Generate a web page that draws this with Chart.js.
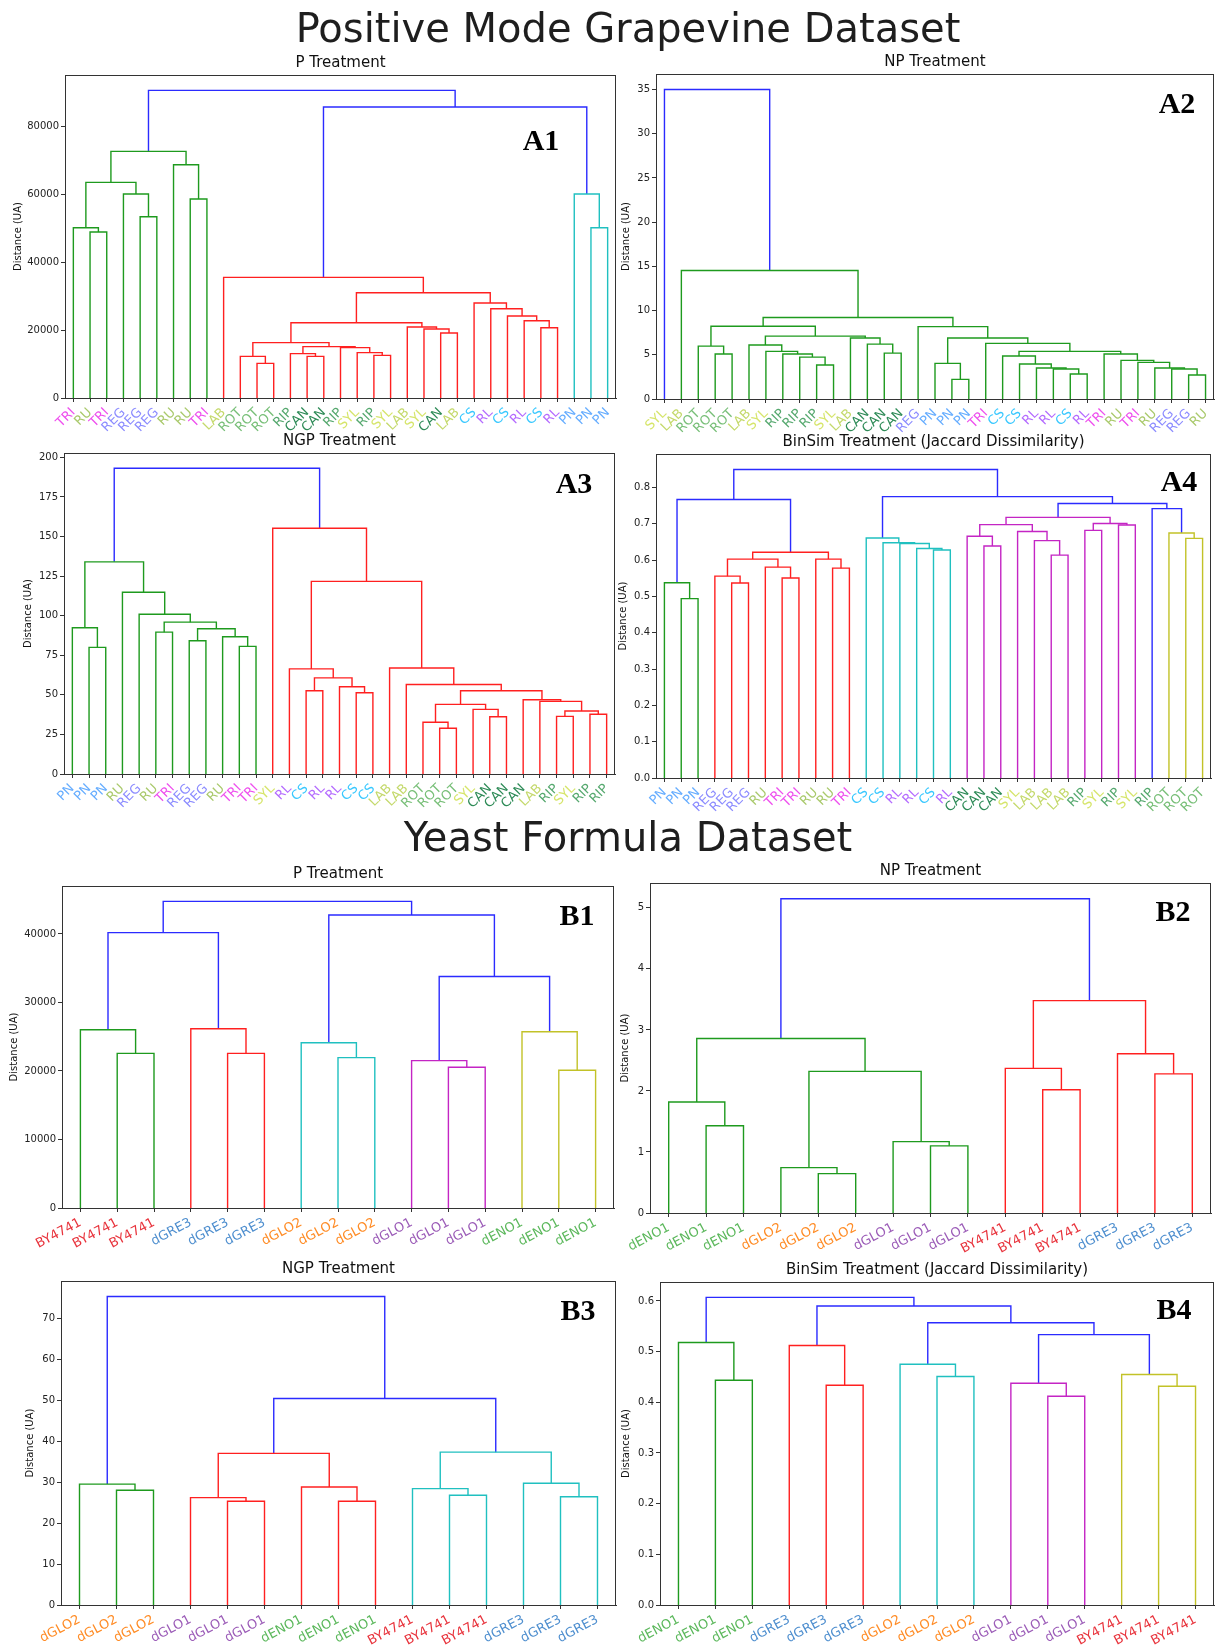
<!DOCTYPE html>
<html>
<head>
<meta charset="utf-8">
<script src="https://cdn.jsdelivr.net/npm/chart.js@4.4.1/dist/chart.umd.min.js"></script>
<style>
  body { margin: 0; background: #fff; }
  #page { position: relative; width: 1220px; height: 1648px; overflow: hidden; background: #fff; font-family: "DejaVu Sans", sans-serif; }
  .big { position: absolute; left: 0; width: 1256px; text-align: center; font-size: 40px; line-height: 40px; color: #1e1e1e; filter: blur(0.5px); white-space: nowrap; }
  canvas { position: absolute; }
</style>
</head>
<body>
<div id="page">
  <div class="big" style="top:8px">Positive Mode Grapevine Dataset</div>
  <div class="big" style="top:817px">Yeast Formula Dataset</div>
</div>
<script>
// ---------- Grapevine dataset (33 samples, 11 varieties) ----------
const a1Leaves = ['TRI','RU','TRI','REG','REG','REG','RU','RU','TRI','LAB','ROT','ROT','ROT','RIP','CAN','CAN','RIP',
                  'SYL','RIP','SYL','LAB','SYL','CAN','LAB','CS','RL','CS','RL','CS','RL','PN','PN','PN'];
// merges: [left, right, height]; index < n is a leaf, index >= n is merge (index - n)
const a1Links = [
  [1,2,48824],[0,33,50098],[4,5,53333],[3,35,60000],[34,36,63431],[7,8,58529],[6,38,68627],[37,39,72549],
  [31,32,50098],[30,41,60000],[11,12,10196],[10,43,12255],[14,15,12255],[13,45,13039],[18,19,12549],[17,47,13333],
  [16,48,14804],[46,49,15098],[44,50,16275],[22,23,19118],[21,52,20294],[20,53,20882],[51,54,22157],[28,29,20686],
  [27,56,22745],[26,57,24118],[25,58,26275],[24,59,27941],[55,60,30980],[9,61,35490],[62,42,85588],[40,63,90490]
];
const a1Cut = 80000;
const a1YTicks = [0,20000,40000,60000,80000];

const a2Leaves = ['SYL','LAB','ROT','ROT','ROT','LAB','SYL','RIP','RIP','RIP','SYL','LAB','CAN','CAN','CAN','REG','PN',
                  'PN','PN','TRI','CS','CS','RL','RL','CS','RL','TRI','RU','TRI','RU','REG','REG','RU'];
const a2Links = [
  [3,4,5.08],[2,33,5.98],[9,10,3.84],[8,35,4.74],[7,36,5.08],[6,37,5.38],[5,38,6.10],[13,14,5.19],
  [12,40,6.21],[11,41,6.89],[39,42,7.11],[34,43,8.22],[17,18,2.22],[16,45,4.03],[24,25,2.82],[23,47,3.39],
  [22,48,3.50],[21,49,3.95],[20,50,4.86],[31,32,2.71],[30,52,3.39],[29,53,3.50],[28,54,4.14],[27,55,4.37],
  [26,56,5.08],[51,57,5.38],[19,58,6.29],[46,59,6.89],[15,60,8.18],[44,61,9.22],[1,62,14.53],[0,63,35.0]
];
const a2Cut = 20;
const a2YTicks = [0,5,10,15,20,25,30,35];

const a3Leaves = ['PN','PN','PN','RU','REG','RU','TRI','REG','REG','RU','TRI','TRI','SYL','RL','CS','RL','RL',
                  'CS','CS','LAB','LAB','ROT','ROT','ROT','SYL','CAN','CAN','CAN','LAB','RIP','SYL','RIP','RIP'];
const a3Links = [
  [1,2,80.0],[0,33,92.4],[10,11,80.6],[9,35,86.7],[7,8,84.2],[37,36,91.7],[5,6,89.6],[39,38,95.9],
  [4,40,100.9],[3,41,114.8],[34,42,134.0],[14,15,52.6],[17,18,51.3],[16,45,55.1],[44,46,60.7],[13,47,66.4],
  [22,23,28.9],[21,49,32.7],[25,26,36.2],[24,51,40.8],[50,52,44.0],[29,30,36.4],[31,32,37.7],[54,55,39.8],
  [28,56,45.9],[27,57,46.9],[53,58,52.6],[20,59,56.5],[19,60,67.0],[48,61,121.7],[12,62,155.2],[43,63,193.1]
];
const a3Cut = 170;
const a3YTicks = [0,25,50,75,100,125,150,175,200];

const a4Leaves = ['PN','PN','PN','REG','REG','REG','RU','TRI','TRI','RU','RU','TRI','CS','CS','RL','RL','CS',
                  'RL','CAN','CAN','CAN','SYL','LAB','LAB','LAB','RIP','SYL','RIP','SYL','RIP','ROT','ROT','ROT'];
const a4Links = [
  [1,2,0.494],[0,33,0.538],[4,5,0.537],[3,35,0.556],[7,8,0.551],[6,37,0.581],[36,38,0.603],[10,11,0.578],
  [9,40,0.603],[39,41,0.622],[34,42,0.767],[16,17,0.628],[15,44,0.632],[14,45,0.646],[13,46,0.648],[12,47,0.661],
  [19,20,0.639],[18,49,0.666],[23,24,0.614],[22,51,0.654],[21,52,0.679],[50,53,0.698],[25,26,0.682],[27,28,0.697],
  [55,56,0.701],[54,57,0.718],[31,32,0.660],[30,59,0.675],[29,60,0.742],[58,61,0.756],[48,62,0.775],[43,63,0.850]
];
const a4Cut = 0.73;
const a4YTicks = [0,0.1,0.2,0.3,0.4,0.5,0.6,0.7,0.8];

// ---------- Yeast dataset (15 samples, 5 strains) ----------
const b1Leaves = ['BY4741','BY4741','BY4741','dGRE3','dGRE3','dGRE3','dGLO2','dGLO2','dGLO2',
                  'dGLO1','dGLO1','dGLO1','dENO1','dENO1','dENO1'];
const b1Links = [
  [1,2,22573],[0,15,26019],[4,5,22573],[3,17,26165],[7,8,21942],[6,19,24126],[10,11,20534],
  [9,21,21505],[13,14,20097],[12,23,25728],[16,18,40194],[22,24,33786],[20,26,42767],[25,27,44757]
];
const b1Cut = 30000;
const b1YTicks = [0,10000,20000,30000,40000];

const b2Leaves = ['dENO1','dENO1','dENO1','dGLO2','dGLO2','dGLO2','dGLO1','dGLO1','dGLO1',
                  'BY4741','BY4741','BY4741','dGRE3','dGRE3','dGRE3'];
const b2Links = [
  [1,2,1.43],[0,15,1.82],[4,5,0.645],[3,17,0.743],[7,8,1.10],[6,19,1.17],[18,20,2.32],
  [16,21,2.86],[10,11,2.02],[9,23,2.37],[13,14,2.28],[12,25,2.61],[24,26,3.48],[22,27,5.15]
];
const b2Cut = 4.5;
const b2YTicks = [0,1,2,3,4,5];

const b3Leaves = ['dGLO2','dGLO2','dGLO2','dGLO1','dGLO1','dGLO1','dENO1','dENO1','dENO1',
                  'BY4741','BY4741','BY4741','dGRE3','dGRE3','dGRE3'];
const b3Links = [
  [1,2,28.0],[0,15,29.5],[4,5,25.3],[3,17,26.2],[7,8,25.3],[6,19,28.8],[18,20,37.0],
  [10,11,26.8],[9,22,28.4],[13,14,26.4],[12,24,29.7],[23,25,37.3],[21,26,50.4],[16,27,75.3]
];
const b3Cut = 45;
const b3YTicks = [0,10,20,30,40,50,60,70];

const b4Leaves = ['dENO1','dENO1','dENO1','dGRE3','dGRE3','dGRE3','dGLO2','dGLO2','dGLO2',
                  'dGLO1','dGLO1','dGLO1','BY4741','BY4741','BY4741'];
const b4Links = [
  [1,2,0.4435],[0,15,0.518],[4,5,0.4336],[3,17,0.512],[7,8,0.451],[6,19,0.475],[10,11,0.412],
  [9,21,0.4376],[13,14,0.4317],[12,23,0.4547],[22,24,0.5335],[20,25,0.557],[18,26,0.590],[16,27,0.607]
];
const b4Cut = 0.525;
const b4YTicks = [0,0.1,0.2,0.3,0.4,0.5,0.6];

// ---------- colours ----------
const labelColors = {
  TRI:'#ee4eee', RU:'#a9c96b', REG:'#8c8cff', LAB:'#c4d96b', ROT:'#78bf78', RIP:'#55a86e',
  CAN:'#2e8b57', SYL:'#d6e56a', CS:'#38c8ff', RL:'#b46bff', PN:'#66adff',
  BY4741:'#e8333c', dGRE3:'#4f8fcf', dGLO2:'#ff8c26', dGLO1:'#9c5db8', dENO1:'#5cb85c'
};
const CLUSTER_COLORS = ['#1e9a1e', '#ff2020', '#20c0c0', '#c425c4', '#c2c228'];
const ABOVE_COLOR = '#2b2bff';
const FONT = '"DejaVu Sans", "Noto Sans", sans-serif';

// Turn a merge table into the bracket polylines of a dendrogram,
// colouring each sub-tree that stays below the cut in turn.
function dendrogramSegments(leaves, links, cut) {
  const n = leaves.length;
  const xs = leaves.map((_, i) => 5 + 10 * i);
  const hs = leaves.map(() => 0);
  links.forEach(([a, b, h], k) => { xs[n + k] = (xs[a] + xs[b]) / 2; hs[n + k] = h; });
  const colors = new Array(links.length).fill(ABOVE_COLOR);
  let next = 0;
  const paint = (node, col) => {
    if (node < n) return;
    const [a, b] = links[node - n];
    colors[node - n] = col; paint(a, col); paint(b, col);
  };
  const walk = (node) => {
    if (node < n) return;
    const [a, b, h] = links[node - n];
    if (h < cut) { paint(node, CLUSTER_COLORS[next++ % CLUSTER_COLORS.length]); }
    else { walk(a); walk(b); }
  };
  walk(n + links.length - 1);
  return links.map(([a, b, h], k) => ({
    points: [{x: xs[a], y: hs[a]}, {x: xs[a], y: h}, {x: xs[b], y: h}, {x: xs[b], y: hs[b]}],
    color: colors[k]
  }));
}

// Frame on all four sides, panel title above, panel tag inside.
const panelDecor = {
  id: 'panelDecor',
  afterDraw(chart, args, opts) {
    const {ctx, chartArea: ca} = chart;
    ctx.save();
    ctx.strokeStyle = '#333';
    ctx.lineWidth = 1;
    ctx.strokeRect(Math.round(ca.left) + 0.5, Math.round(ca.top) + 0.5,
                   Math.round(ca.right - ca.left) - 1, Math.round(ca.bottom - ca.top));
    ctx.fillStyle = '#111';
    ctx.font = '15px ' + FONT;
    ctx.textAlign = 'center';
    ctx.textBaseline = 'middle';
    ctx.fillText(opts.title, (ca.left + ca.right) / 2, ca.top - 12);
    ctx.font = 'bold 30px "Liberation Serif", "Times New Roman", serif';
    ctx.fillStyle = '#000';
    ctx.fillText(opts.tag, opts.tagX, opts.tagY);
    ctx.restore();
  }
};

const panels = [
  {tag:'A1', title:'P Treatment', leaves:a1Leaves, links:a1Links, cut:a1Cut, yTicks:a1YTicks, dec:0,
   box:[65,75,616,398], yw:53, rot:45, xh:48, xfont:13, tagAt:[541,142]},
  {tag:'A2', title:'NP Treatment', leaves:a2Leaves, links:a2Links, cut:a2Cut, yTicks:a2YTicks, dec:0,
   box:[656,74,1214,399], yw:36, rot:45, xh:48, xfont:13, tagAt:[1177,105]},
  {tag:'A3', title:'NGP Treatment', leaves:a3Leaves, links:a3Links, cut:a3Cut, yTicks:a3YTicks, dec:0,
   box:[64,453,615,774], yw:42, rot:45, xh:48, xfont:13, tagAt:[574,485]},
  {tag:'A4', title:'BinSim Treatment (Jaccard Dissimilarity)', leaves:a4Leaves, links:a4Links, cut:a4Cut, yTicks:a4YTicks, dec:1,
   box:[656,454,1211,778], yw:39, rot:45, xh:48, xfont:13, tagAt:[1179,483]},
  {tag:'B1', title:'P Treatment', leaves:b1Leaves, links:b1Links, cut:b1Cut, yTicks:b1YTicks, dec:0,
   box:[62,886,614,1208], yw:54, rot:28, xh:48, xfont:13, tagAt:[577,917]},
  {tag:'B2', title:'NP Treatment', leaves:b2Leaves, links:b2Links, cut:b2Cut, yTicks:b2YTicks, dec:0,
   box:[650,883,1211,1213], yw:31, rot:28, xh:48, xfont:13, tagAt:[1173,913]},
  {tag:'B3', title:'NGP Treatment', leaves:b3Leaves, links:b3Links, cut:b3Cut, yTicks:b3YTicks, dec:0,
   box:[61,1281,616,1605], yw:37, rot:28, xh:43, xfont:13, tagAt:[578,1312]},
  {tag:'B4', title:'BinSim Treatment (Jaccard Dissimilarity)', leaves:b4Leaves, links:b4Links, cut:b4Cut, yTicks:b4YTicks, dec:1,
   box:[660,1282,1214,1605], yw:40, rot:28, xh:43, xfont:13, tagAt:[1174,1311]}
];

const page = document.getElementById('page');
const TOP_PAD = 30, RIGHT_PAD = 6;

panels.forEach(p => {
  const [l, t, r, b] = p.box;
  const left = l - p.yw, top = t - TOP_PAD;
  const w = p.yw + (r - l) + RIGHT_PAD, h = TOP_PAD + (b - t) + p.xh;
  const canvas = document.createElement('canvas');
  canvas.width = w; canvas.height = h;
  canvas.style.left = left + 'px'; canvas.style.top = top + 'px';
  canvas.style.width = w + 'px'; canvas.style.height = h + 'px';
  page.appendChild(canvas);

  const segs = dendrogramSegments(p.leaves, p.links, p.cut);
  const topHeight = p.links[p.links.length - 1][2];
  const n = p.leaves.length;

  new Chart(canvas, {
    type: 'scatter',
    data: {
      datasets: segs.map(s => ({
        data: s.points, showLine: true, borderColor: s.color, borderWidth: 1.4,
        pointRadius: 0, pointHoverRadius: 0, fill: false, tension: 0
      }))
    },
    options: {
      responsive: false, animation: false, devicePixelRatio: 1,
      layout: {padding: {top: TOP_PAD, right: RIGHT_PAD, left: 0, bottom: 0}},
      plugins: {
        legend: {display: false}, tooltip: {enabled: false},
        panelDecor: {title: p.title, tag: p.tag, tagX: p.tagAt[0] - left, tagY: p.tagAt[1] - top}
      },
      scales: {
        x: {
          type: 'linear', min: 0, max: 10 * n,
          afterBuildTicks: s => { s.ticks = p.leaves.map((_, i) => ({value: 5 + 10 * i})); },
          afterFit: s => { s.height = p.xh; },
          ticks: {
            autoSkip: false, minRotation: p.rot, maxRotation: p.rot, padding: 3,
            font: {family: FONT, size: p.xfont},
            color: ctx => labelColors[p.leaves[ctx.index]],
            callback: (v, i) => p.leaves[i]
          },
          grid: {drawOnChartArea: false, tickLength: 4, color: '#333', tickColor: '#333'},
          border: {color: '#333'}
        },
        y: {
          type: 'linear', min: 0, max: topHeight * 1.05,
          afterBuildTicks: s => { s.ticks = p.yTicks.map(v => ({value: v})); },
          afterFit: s => { s.width = p.yw; },
          ticks: {
            font: {family: FONT, size: 10}, color: '#222', padding: 2,
            callback: v => v.toFixed(p.dec)
          },
          title: {display: true, text: 'Distance (UA)', font: {family: FONT, size: 10}, color: '#111', padding: {top: 0, bottom: 0}},
          grid: {drawOnChartArea: false, tickLength: 4, color: '#333', tickColor: '#333'},
          border: {color: '#333'}
        }
      }
    },
    plugins: [panelDecor]
  });
});
</script>
</body>
</html>
